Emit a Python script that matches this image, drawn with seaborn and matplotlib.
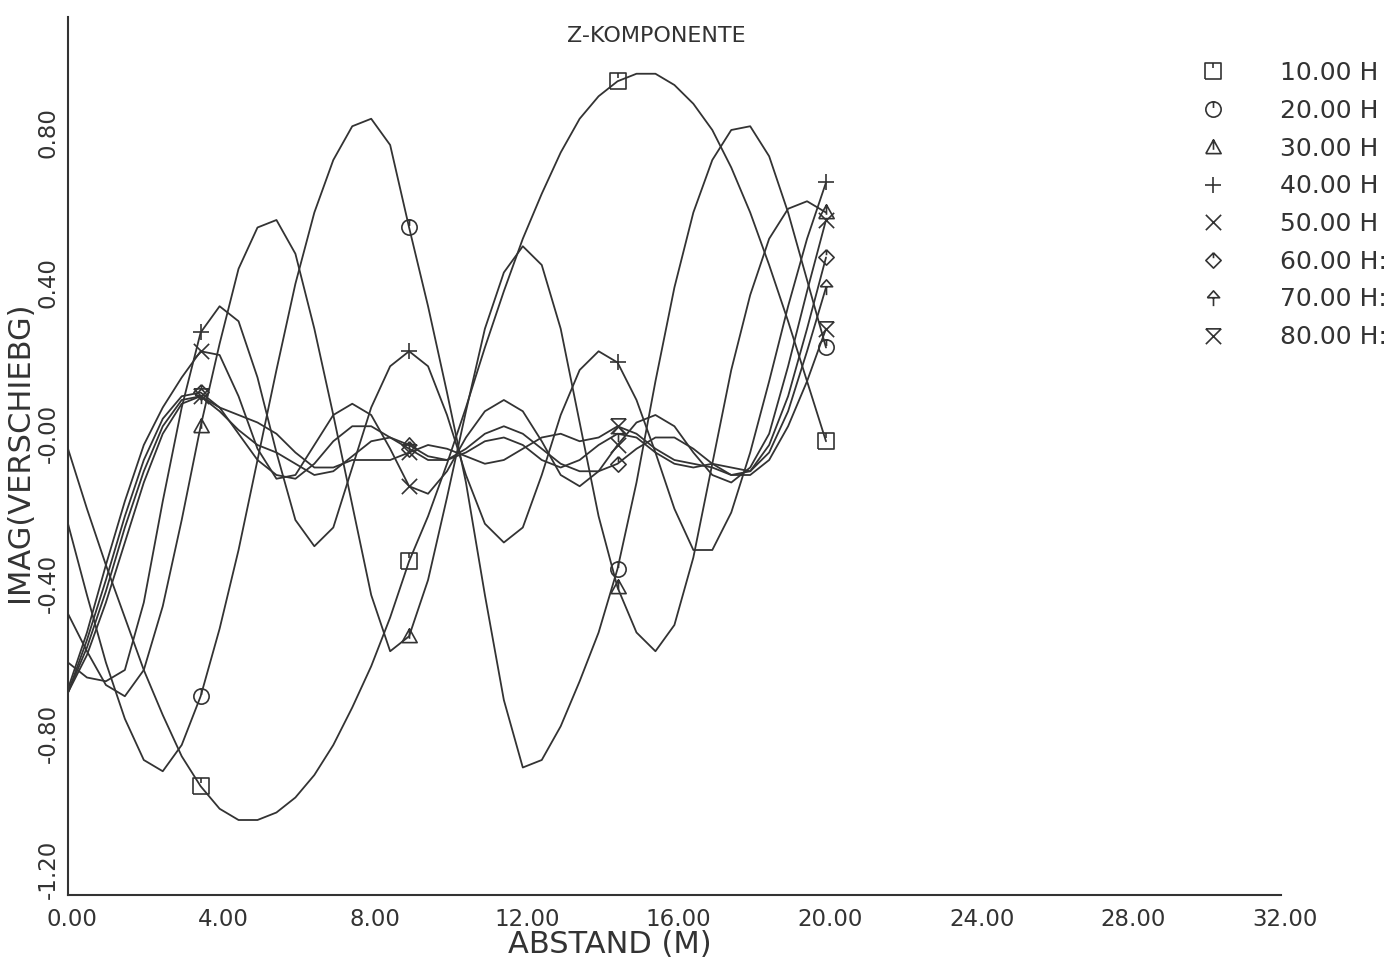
import numpy as np
import pandas as pd
import seaborn as sns
import matplotlib
matplotlib.use("Agg")
import matplotlib.pyplot as plt
from matplotlib.path import Path
from matplotlib.lines import Line2D
import matplotlib.transforms as mtransforms

# ---------------- data ----------------
abstand = np.arange(0.0, 20.5, 0.5)  # measurement positions (m)

z10 = [-0.01, -0.17, -0.32, -0.46, -0.60, -0.72, -0.83, -0.91, -0.97, -1.00, -1.00,
       -0.98, -0.94, -0.88, -0.80, -0.70, -0.59, -0.46, -0.31, -0.19, -0.05,
       0.10, 0.26, 0.41, 0.55, 0.67, 0.78, 0.87, 0.93, 0.97, 0.99,
       0.99, 0.96, 0.91, 0.84, 0.74, 0.62, 0.48, 0.33, 0.17, 0.01]
z20 = [-0.21, -0.40, -0.58, -0.73, -0.84, -0.87, -0.80, -0.67, -0.49, -0.28, -0.04,
       0.20, 0.43, 0.62, 0.76, 0.85, 0.87, 0.80, 0.58, 0.37, 0.14,
       -0.10, -0.40, -0.68, -0.86, -0.84, -0.75, -0.63, -0.50, -0.33, -0.10,
       0.17, 0.42, 0.62, 0.76, 0.84, 0.85, 0.77, 0.62, 0.44, 0.26]
z30 = [-0.45, -0.55, -0.64, -0.67, -0.60, -0.43, -0.20, 0.05, 0.27, 0.47, 0.58,
       0.60, 0.51, 0.31, 0.08, -0.16, -0.40, -0.55, -0.51, -0.36, -0.14,
       0.09, 0.31, 0.46, 0.53, 0.48, 0.31, 0.06, -0.19, -0.38, -0.50,
       -0.55, -0.48, -0.30, -0.05, 0.20, 0.40, 0.55, 0.63, 0.65, 0.62]
z40 = [-0.58, -0.62, -0.63, -0.60, -0.42, -0.15, 0.10, 0.30, 0.37, 0.33, 0.18,
       -0.02, -0.20, -0.27, -0.22, -0.06, 0.10, 0.21, 0.25, 0.21, 0.08,
       -0.08, -0.21, -0.26, -0.22, -0.08, 0.08, 0.20, 0.25, 0.22, 0.12,
       -0.02, -0.17, -0.28, -0.28, -0.18, -0.02, 0.17, 0.37, 0.55, 0.70]
z50 = [-0.65, -0.50, -0.32, -0.15, 0.00, 0.10, 0.18, 0.25, 0.24, 0.13, -0.01,
       -0.09, -0.08, 0.00, 0.08, 0.11, 0.08, -0.01, -0.11, -0.13, -0.07,
       0.02, 0.09, 0.12, 0.09, 0.01, -0.08, -0.11, -0.07, 0.00, 0.06,
       0.08, 0.05, -0.02, -0.08, -0.10, -0.06, 0.03, 0.21, 0.41, 0.60]
z60 = [-0.66, -0.52, -0.36, -0.19, -0.04, 0.07, 0.13, 0.14, 0.10, 0.03, -0.04,
       -0.08, -0.09, -0.05, 0.01, 0.05, 0.05, 0.02, -0.01, -0.04, -0.04,
       -0.01, 0.03, 0.05, 0.03, -0.01, -0.05, -0.07, -0.07, -0.05, -0.01,
       0.02, 0.02, -0.01, -0.05, -0.08, -0.07, 0.00, 0.13, 0.31, 0.50]
z70 = [-0.66, -0.54, -0.39, -0.22, -0.07, 0.05, 0.12, 0.13, 0.09, 0.04, 0.00,
       -0.02, -0.05, -0.08, -0.07, -0.03, 0.01, 0.02, 0.00, -0.03, -0.04,
       -0.02, 0.01, 0.02, 0.00, -0.04, -0.06, -0.04, 0.00, 0.03, 0.02,
       -0.02, -0.05, -0.06, -0.05, -0.06, -0.07, -0.02, 0.09, 0.25, 0.42]
z80 = [-0.66, -0.56, -0.42, -0.26, -0.10, 0.03, 0.11, 0.13, 0.10, 0.08, 0.06,
       0.03, -0.02, -0.06, -0.06, -0.04, -0.04, -0.04, -0.02, 0.00, -0.01,
       -0.03, -0.05, -0.04, -0.01, 0.02, 0.03, 0.01, 0.02, 0.05, 0.03,
       -0.01, -0.04, -0.05, -0.06, -0.08, -0.08, -0.04, 0.05, 0.17, 0.31]

freq_labels = ["10.00 H", "20.00 H", "30.00 H", "40.00 H",
               "50.00 H", "60.00 H:", "70.00 H:", "80.00 H:"]
marker_idx = [7, 18, 29, 40]

xtick_vals = [0, 4, 8, 12, 16, 20, 24, 28, 32]
xtick_labels = ["0.00", "4.00", "8.00", "12.00", "16.00", "20.00", "24.00", "28.00", "32.00"]
ytick_vals = [-1.2, -0.8, -0.4, 0.0, 0.4, 0.8]
ytick_labels = ["-1.20", "-0.80", "-0.40", "-0.00", "0.40", "0.80"]

# ---------------- marker shapes ----------------
def compound(*polylines):
    verts, codes = [], []
    for pl in polylines:
        for k, p in enumerate(pl):
            verts.append(p)
            codes.append(Path.MOVETO if k == 0 else Path.LINETO)
    return Path(verts, codes)

circ = Path.unit_circle()
m_square = compound([(-1, -1), (1, -1), (1, 1), (-1, 1), (-1, -1)], [(0, 1), (0, 0.35)])
m_circle = Path.make_compound_path(circ, compound([(0, 1), (0, 0.2)]))
m_tri = compound([(-1, -0.8), (1, -0.8), (0, 1), (-1, -0.8)], [(0, 1), (0, -0.3)])
m_plus = compound([(-1, 0), (1, 0)], [(0, -1), (0, 1)])
m_x = compound([(-1, -1), (1, 1)], [(-1, 1), (1, -1)])
m_diam = compound([(0, 1), (1, 0), (0, -1), (-1, 0), (0, 1)], [(0, 1), (0, 0.3)])
m_arrow = compound([(-0.8, 0.1), (0.8, 0.1), (0, 1), (-0.8, 0.1)], [(0, 0.1), (0, -1)])
m_hour = compound([(-1, 1), (1, 1)], [(-1, 1), (1, -1)], [(1, 1), (-1, -1)])
markers = [m_square, m_circle, m_tri, m_plus, m_x, m_diam, m_arrow, m_hour]
series = [z10, z20, z30, z40, z50, z60, z70, z80]

# ---------------- figure ----------------
sns.set_theme(style="white")
plt.rcParams["font.family"] = ["DejaVu Sans"]
ink = "#333333"

W, H = 1392, 965
x0_px, x1_px = 68, 68 + 32 * 37.9
y_bot, y_top = 895, 17.5
fig = plt.figure(figsize=(W / 100, H / 100), dpi=100)
ax = fig.add_axes([x0_px / W, 1 - y_bot / H, (x1_px - x0_px) / W, (y_bot - y_top) / H])

for vals, mk in zip(series, markers):
    df = pd.DataFrame({"abstand": abstand, "z": vals})
    sns.lineplot(data=df, x="abstand", y="z", ax=ax, color=ink, lw=1.3,
                 marker=mk, markevery=marker_idx, markersize=11,
                 markerfacecolor="none", markeredgecolor=ink, markeredgewidth=1.2,
                 legend=False, estimator=None)

ax.set_xlim(0, 32)
ax.set_ylim(-1.2, 1.14)
for s in ["top", "right"]:
    ax.spines[s].set_visible(False)
for s in ["left", "bottom"]:
    ax.spines[s].set_color(ink)
    ax.spines[s].set_linewidth(1.5)

ax.set_xticks(xtick_vals)
ax.set_xticklabels(xtick_labels, fontsize=16.5, color=ink)
ax.set_yticks(ytick_vals)
ax.set_yticklabels(ytick_labels, fontsize=16.5, color=ink, rotation=90, va="center")
ax.tick_params(axis="x", direction="out", length=6, width=1.2, color=ink, pad=3)
ax.tick_params(axis="y", direction="out", length=5, width=1.2, color=ink, pad=1)
offset = mtransforms.ScaledTranslation(4 / 100, 0, fig.dpi_scale_trans)
for lab in ax.get_xticklabels():
    lab.set_transform(lab.get_transform() + offset)
for lab in ax.get_yticklabels():
    dy = 26 if lab.get_text() == "-1.20" else 12
    lab.set_transform(lab.get_transform()
                      + mtransforms.ScaledTranslation(0, dy / 100, fig.dpi_scale_trans))

ax.set_xlabel("ABSTAND (M)", fontsize=22, color=ink)
ax.xaxis.set_label_coords((610 - x0_px) / (x1_px - x0_px), -0.040)
ax.set_ylabel("IMAG(VERSCHIEBG)", fontsize=22, color=ink)
ax.yaxis.set_label_coords(-0.028, (895 - 452) / (895 - 17.5))

fig.text(656 / W, 1 - 36 / H, "Z-KOMPONENTE", fontsize=16, color=ink,
         ha="center", va="center")

handles = []
for mk in markers:
    handles.append(Line2D([], [], ls="none", marker=mk, markersize=11,
                          markerfacecolor="none", markeredgecolor=ink,
                          markeredgewidth=1.2))
ax.legend(handles, freq_labels, loc="upper left",
          bbox_to_anchor=(1200 / W, 1 - 61 / H), bbox_transform=fig.transFigure,
          frameon=False, fontsize=18, handlelength=1.0, handletextpad=2.2,
          labelspacing=0.55, borderpad=0, borderaxespad=0, labelcolor=ink)

fig.savefig("out.png", dpi=100, facecolor="white")
